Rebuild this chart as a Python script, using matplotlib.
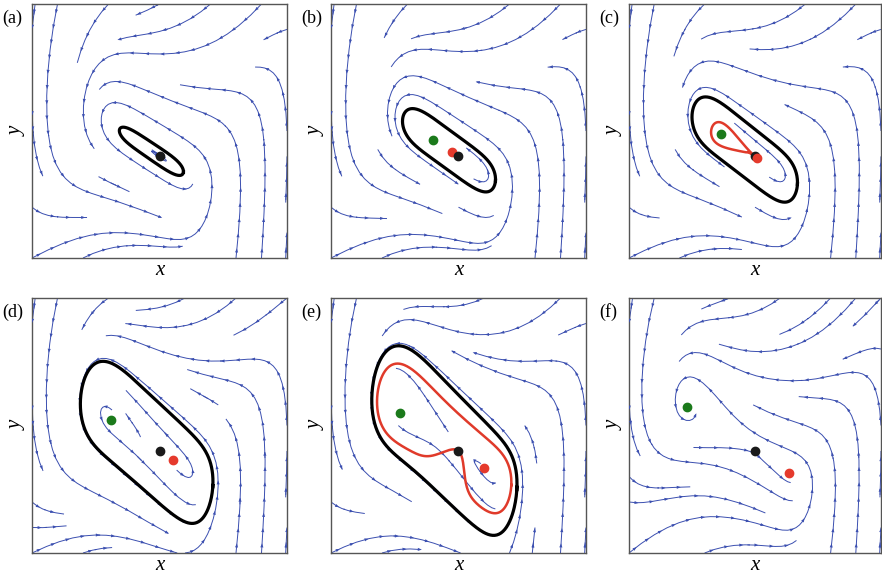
import numpy as np
import matplotlib.pyplot as plt
from matplotlib.collections import PolyCollection

plt.rcParams['font.family'] = ['Liberation Serif', 'DejaVu Serif']

panel_labels = ['(a)', '(b)', '(c)', '(d)', '(e)', '(f)']
# equilibria along the slow axis (black point is at p = 0 in every panel)
green_p = [np.nan, -0.24, -0.32, -0.45, -0.55, -0.64]
red_p = [np.nan, -0.06, 0.02, 0.13, 0.24, 0.32]
root_a = (-0.15, 0.10)          # complex pair for panel (a): re, im
# lower-right end of the black cycle, pixels right/down of the black point
tip_px = [(22, 22), (34, 33), (41, 37), (50, 53), None, None]
# panel (e): lowest point of the black cycle and of the red loop, pixels below black
low_px_e = (84, 62)
mu_f = -0.05                    # damping in panel (f), no cycle there

C, B, D, E, KAPPA = 0.55, 1.2, 10.0, 6.0, 0.3
center = np.array([0.0, -0.2])
ang_p, ang_q = np.deg2rad(-33), np.deg2rad(72)
ep = np.array([np.cos(ang_p), np.sin(ang_p)])
eq = np.array([np.cos(ang_q), np.sin(ang_q)])
Minv = np.linalg.inv(np.column_stack([ep, eq]))
BLUE = '#3b4fb0'
RED = '#e03a2a'


def force(p, k):
    if k == 0:
        g = p * ((p - root_a[0]) ** 2 + root_a[1] ** 2)
    else:
        g = p * (p - green_p[k]) * (p - red_p[k])
    return C * g * (1 + D * p ** 2 + E * p ** 3)


def rhs(p, q, k, mu, kap=KAPPA):
    f = force(p, k)
    return -q - kap * f, f + q * (mu - B * q ** 2)


def to_xy(p, q):
    return center[0] + p * ep[0] + q * eq[0], center[1] + p * ep[1] + q * eq[1]


def integrate(k, mu, p, q, dt, n, kap=KAPPA):
    ps, qs = [p], [q]
    for _ in range(n):
        k1 = rhs(p, q, k, mu, kap)
        k2 = rhs(p + dt / 2 * k1[0], q + dt / 2 * k1[1], k, mu, kap)
        k3 = rhs(p + dt / 2 * k2[0], q + dt / 2 * k2[1], k, mu, kap)
        k4 = rhs(p + dt * k3[0], q + dt * k3[1], k, mu, kap)
        p = p + dt / 6 * (k1[0] + 2 * k2[0] + 2 * k3[0] + k4[0])
        q = q + dt / 6 * (k1[1] + 2 * k2[1] + 2 * k3[1] + k4[1])
        ps.append(p)
        qs.append(q)
    return np.array(ps), np.array(qs)


def tip_p(k):
    dx, dy = tip_px[k][0] / 127.5, -tip_px[k][1] / 127.0
    return Minv[0, 0] * dx + Minv[0, 1] * dy


def fit_mu(k, tip):
    # pick the damping whose limit cycle reaches the measured tip
    mus = np.linspace(0.002, 1.2, 150)
    with np.errstate(all='ignore'):
        ps, qs = integrate(k, mus, np.full_like(mus, tip), np.zeros_like(mus), 0.025, 8000)
    reach = ps[-3500:].max(axis=0)
    return mus[np.nanargmin(np.abs(reach - tip))]


def sweep_low(k):
    # lowest y of the outer cycle for a range of damping values
    mus = np.linspace(0.01, 1.2, 160)
    with np.errstate(all='ignore'):
        ps, qs = integrate(k, mus, np.full_like(mus, 0.85), np.zeros_like(mus), 0.025, 8000)
    tp, tq = ps[-3500:], qs[-3500:]
    low = (center[1] + tp * ep[1] + tq * eq[1]).min(axis=0)
    alive = (tp.min(axis=0) < green_p[k] - 0.05) & (tp.max(axis=0) > red_p[k] + 0.05)
    low[~alive] = np.nan
    return mus, low


def pick(mus, low, px):
    target = center[1] - px / 127.0
    return mus[np.nanargmin(np.abs(low - target))]


def last_cycle(ps, qs):
    idx = np.where((qs[:-1] < 0) & (qs[1:] >= 0))[0]
    i0, i1 = idx[-2], idx[-1] + 2
    return ps[i0:i1], qs[i0:i1]


def one_turn(ps, qs, pc):
    ang = np.unwrap(np.arctan2(qs * 3, ps - pc))
    turn = np.abs(ang - ang[0])
    win = np.where((turn > 1.5 * np.pi) & (turn < 2.3 * np.pi))[0]
    stop = win[np.argmin(np.hypot(ps[win], qs[win]))]
    return np.r_[0.0, ps[:stop], 0.0], np.r_[0.0, qs[:stop], 0.0]


def through_saddle(cp, cq, width=0.15):
    # pull the lower side of the cycle onto the saddle point (homoclinic loop)
    s = np.r_[0, np.cumsum(np.hypot(np.diff(cp), np.diff(cq)))]
    i = np.argmin(np.where(cq < 0, np.hypot(cp, cq), np.inf))
    ds = np.abs(s - s[i])
    ds = np.minimum(ds, s[-1] - ds)
    w = np.exp(-(ds / width) ** 2)
    return cp - w * cp[i], cq - w * cq[i]


def arrow_heads(seg, step=0.12, size=0.032):
    d = np.diff(seg, axis=0)
    s = np.concatenate([[0], np.cumsum(np.hypot(d[:, 0], d[:, 1]))])
    tris = []
    if s[-1] < step:
        return tris
    for sv in np.arange(step / 2, s[-1], step):
        i = max(min(np.searchsorted(s, sv), len(seg) - 1), 1)
        t = seg[i] - seg[i - 1]
        n = np.hypot(*t)
        if n == 0:
            continue
        t = t / n
        nrm = np.array([-t[1], t[0]])
        tip = seg[i - 1] + t * (sv - s[i - 1]) + t * size / 2
        base = tip - t * size
        tris.append([tip, base + nrm * size * 0.38, base - nrm * size * 0.38])
    return tris


fig = plt.figure(figsize=(8.82, 5.78), dpi=100)
W, H = 882, 578
boxes = [(32, 4, 287, 258), (331, 4, 586, 258), (629, 4, 881, 258),
         (32, 298, 287, 553), (331, 298, 586, 553), (629, 298, 881, 553)]

xg = np.linspace(-1, 1, 140)
X, Y = np.meshgrid(xg, xg)
P = Minv[0, 0] * (X - center[0]) + Minv[0, 1] * (Y - center[1])
Q = Minv[1, 0] * (X - center[0]) + Minv[1, 1] * (Y - center[1])

for k in range(6):
    x0, y0, x1, y1 = boxes[k]
    ax = fig.add_axes([x0 / W, 1 - y1 / H, (x1 - x0) / W, (y1 - y0) / H])
    if k == 4:
        mus, low = sweep_low(k)
        mu = pick(mus, low, low_px_e[0])
        mu_red = pick(mus, low, low_px_e[1])
    elif tip_px[k] is None:
        mu = mu_f
    else:
        mu = fit_mu(k, tip_p(k))

    dP, dQ = rhs(P, Q, k, mu)
    U = dP * ep[0] + dQ * eq[0]
    V = dP * ep[1] + dQ * eq[1]
    sp = ax.streamplot(X, Y, U, V, density=0.37, color=BLUE, linewidth=0.7,
                       arrowsize=0.01)
    sp.arrows.set_visible(False)
    tris = []
    for seg in sp.lines.get_segments():
        tris += arrow_heads(np.asarray(seg))
    ax.add_collection(PolyCollection(tris, facecolor=BLUE, edgecolor='none', zorder=3))

    if k < 5:
        start = 0.85 if k == 4 else tip_p(k)
        ps, qs = integrate(k, mu, start, 0.0, 0.025, 10000)
        cp, cq = last_cycle(ps, qs)
        ax.plot(*to_xy(cp, cq), color='black', lw=2.3, zorder=4)
    if k == 2:
        # loop through the merged black/red point around the green one
        ps, qs = integrate(k, 0.0, -0.01, 0.0005, 0.02, 40000, kap=0.0)
        lp, lq = one_turn(ps, qs, green_p[k])
        ax.plot(*to_xy(lp, 2.2 * lq), color=RED, lw=1.8, zorder=5)
    if k == 4:
        ps, qs = integrate(k, mu_red, 0.85, 0.0, 0.025, 10000)
        lp, lq = through_saddle(*last_cycle(ps, qs))
        ax.plot(*to_xy(lp, lq), color=RED, lw=1.8, zorder=5)

    ax.plot(*to_xy(0.0, 0.0), 'o', color='#1a1a1a', ms=6, zorder=6)
    if k > 0:
        ax.plot(*to_xy(green_p[k], 0.0), 'o', color='#1b7a1b', ms=6, zorder=6)
        ax.plot(*to_xy(red_p[k], 0.0), 'o', color='#e53a2c', ms=6,
                zorder=7 if k == 2 else 5.5)

    ax.set_xlim(-1, 1)
    ax.set_ylim(-1, 1)
    ax.set_xticks([])
    ax.set_yticks([])
    for s in ax.spines.values():
        s.set_color('#555555')
        s.set_linewidth(1.0)
    ax.set_xlabel('x', fontsize=15, style='italic', labelpad=2)
    ax.set_ylabel('y', fontsize=15, style='italic', labelpad=4)
    fig.text((x0 - 30) / W, 1 - (y0 + 14) / H, panel_labels[k], fontsize=13,
             ha='left', va='center')

fig.savefig('out.png', dpi=100)
